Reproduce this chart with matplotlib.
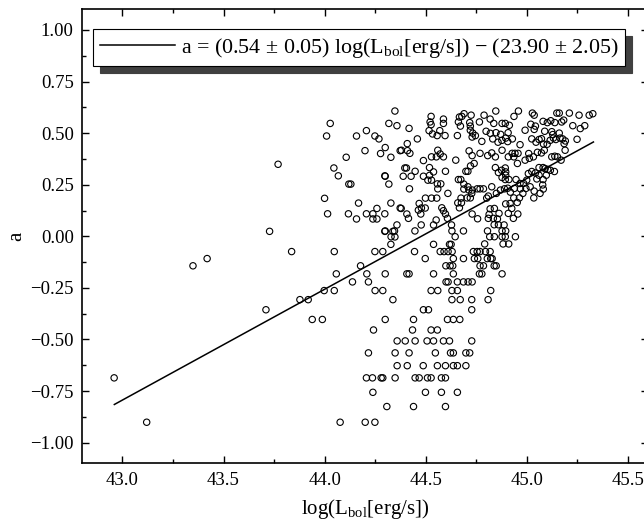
import matplotlib
matplotlib.use("Agg")
import matplotlib.pyplot as plt
from matplotlib.ticker import MultipleLocator, FuncFormatter
import numpy as np

plt.rcParams['font.family'] = ['Liberation Serif', 'DejaVu Serif']
plt.rcParams['mathtext.fontset'] = 'custom'
plt.rcParams['mathtext.rm'] = 'Liberation Serif'

# points in the upper, scattered part of the cloud
upper_lum = [
    43.770, 44.000, 44.015, 43.728,
    44.348, 44.028, 44.318, 44.358, 44.010, 44.158, 44.207, 44.249,
    44.269, 44.200, 44.300, 44.277, 44.328, 44.374, 44.107, 44.046,
    44.068, 44.298, 44.318, 44.120, 44.130, 44.168, 44.328, 44.374,
    44.118, 44.158, 44.207, 44.239, 44.259, 44.239, 44.259, 44.298,
    44.358, 44.298, 44.338, 44.348, 44.328,
    44.847, 44.959, 45.028, 45.037, 45.149, 45.161, 45.211, 45.259,
    45.309, 45.327, 44.527, 44.522, 44.527, 44.588, 44.588, 44.667,
    44.679, 44.690, 44.725, 44.789, 44.819, 44.837, 44.937, 44.662,
    44.672, 44.718, 44.721, 44.766, 44.878, 44.894, 44.914, 45.020,
    45.043, 45.037, 45.081, 45.102, 45.119, 45.139, 45.173, 45.183,
    45.228, 45.265, 45.287, 44.418, 44.517, 44.534, 44.557, 44.570,
    44.596, 44.657, 44.721, 44.733, 44.746, 44.730, 44.799, 44.820,
    44.848, 44.871, 44.908, 44.992, 45.089, 45.124, 45.129, 45.132,
    45.161, 45.178, 44.459, 44.778, 44.832, 44.858, 44.877, 44.896,
    44.906, 44.929, 44.967, 45.025, 45.046, 45.061, 45.073, 45.083,
    45.101, 45.116, 45.144, 45.165, 45.191, 45.185, 45.249, 44.409,
    44.410, 44.422, 44.380, 44.560, 44.572, 44.529, 44.553, 44.588,
    44.649, 44.715, 44.769, 44.730, 44.807, 44.827, 44.878, 44.845,
    44.909, 44.928, 44.942, 44.957, 44.936, 44.954, 44.992, 45.010,
    45.013, 45.033, 45.053, 45.087, 45.073, 45.124, 45.139, 45.152,
    45.170, 45.190, 44.489, 44.519, 44.539, 44.397, 44.405, 44.428,
    44.389, 44.448, 44.519, 44.489, 44.511, 44.529, 44.300, 44.420,
    44.598, 44.699, 44.709, 44.722, 44.740, 44.845, 44.860, 44.876,
    44.894, 44.896, 44.878, 44.894, 44.912, 44.896, 44.947, 44.967,
    44.985, 45.000, 45.008, 45.025, 45.043, 45.061, 45.081, 45.091,
    45.104, 45.117, 45.137, 45.061, 45.081, 45.097, 45.050, 45.079,
    45.082, 45.066, 45.035, 44.662, 44.674, 44.558, 44.575, 44.560,
    44.610, 44.689, 44.709, 44.689, 44.714, 44.731, 44.755, 44.769,
    44.786, 44.802, 44.810, 44.827, 44.850, 44.870, 44.890, 44.906,
    44.919, 44.939, 44.969, 44.981, 44.996, 45.017, 45.037, 44.499,
    44.529, 44.555, 44.675, 44.728, 44.721, 44.705, 44.936, 44.964,
    44.953, 44.468, 44.479, 44.498, 44.464, 44.476, 44.580, 44.588,
    44.598, 44.608, 44.659, 44.677, 44.667, 44.379, 44.407, 44.415,
    44.730, 44.819, 44.840, 44.814, 44.835, 44.855, 44.863, 44.896,
    44.918, 44.909, 44.926, 44.934, 44.956, 44.757, 44.810, 44.346,
    44.300, 44.329, 44.447, 44.478, 44.539, 44.552, 44.628, 44.630,
    44.646, 44.539, 44.687, 44.806, 44.840, 44.817, 44.878, 44.896,
    44.878, 44.894, 44.883, 44.911, 44.944, 44.839, 44.860, 44.888,
    44.792, 44.618, 44.626,
]
upper_a = [
    0.349, 0.184, 0.109, 0.024,
    0.607, 0.547, 0.547, 0.536, 0.486, 0.486, 0.512, 0.486,
    0.472, 0.415, 0.430, 0.401, 0.383, 0.415, 0.383, 0.331,
    0.293, 0.293, 0.253, 0.253, 0.253, 0.161, 0.161, 0.137,
    0.109, 0.084, 0.109, 0.109, 0.135, 0.084, 0.084, 0.109,
    0.055, 0.024, 0.024, -0.003, -0.039,
    0.607, 0.607, 0.597, 0.587, 0.597, 0.597, 0.597, 0.587,
    0.587, 0.594, 0.581, 0.554, 0.541, 0.568, 0.547, 0.578,
    0.581, 0.594, 0.587, 0.587, 0.568, 0.547, 0.581, 0.554,
    0.534, 0.551, 0.534, 0.554, 0.547, 0.547, 0.538, 0.543,
    0.534, 0.518, 0.557, 0.551, 0.560, 0.551, 0.554, 0.563,
    0.536, 0.522, 0.536, 0.523, 0.512, 0.496, 0.488, 0.512,
    0.488, 0.488, 0.514, 0.500, 0.488, 0.481, 0.509, 0.499,
    0.502, 0.494, 0.502, 0.514, 0.509, 0.507, 0.493, 0.476,
    0.500, 0.472, 0.472, 0.460, 0.472, 0.456, 0.465, 0.476,
    0.459, 0.472, 0.444, 0.472, 0.456, 0.469, 0.473, 0.447,
    0.446, 0.465, 0.469, 0.476, 0.462, 0.449, 0.470, 0.449,
    0.415, 0.402, 0.417, 0.417, 0.399, 0.385, 0.385, 0.385,
    0.369, 0.414, 0.402, 0.391, 0.391, 0.404, 0.417, 0.385,
    0.385, 0.402, 0.402, 0.402, 0.385, 0.353, 0.369, 0.401,
    0.378, 0.385, 0.407, 0.417, 0.404, 0.385, 0.388, 0.385,
    0.369, 0.417, 0.367, 0.333, 0.312, 0.331, 0.331, 0.291,
    0.291, 0.315, 0.295, 0.291, 0.272, 0.272, 0.291, 0.230,
    0.315, 0.315, 0.315, 0.341, 0.353, 0.333, 0.309, 0.320,
    0.331, 0.312, 0.285, 0.275, 0.275, 0.296, 0.275, 0.256,
    0.256, 0.272, 0.304, 0.314, 0.307, 0.333, 0.333, 0.328,
    0.324, 0.320, 0.314, 0.296, 0.275, 0.296, 0.278, 0.249,
    0.229, 0.208, 0.186, 0.275, 0.275, 0.254, 0.254, 0.230,
    0.208, 0.253, 0.240, 0.229, 0.224, 0.224, 0.230, 0.230,
    0.230, 0.185, 0.195, 0.240, 0.208, 0.224, 0.230, 0.233,
    0.214, 0.232, 0.230, 0.208, 0.232, 0.240, 0.219, 0.185,
    0.185, 0.185, 0.185, 0.208, 0.186, 0.186, 0.186, 0.186,
    0.164, 0.159, 0.137, 0.137, 0.127, 0.108, 0.138, 0.124,
    0.108, 0.087, 0.162, 0.162, 0.138, 0.135, 0.108, 0.087,
    0.108, 0.133, 0.135, 0.106, 0.087, 0.084, 0.111, 0.157,
    0.159, 0.111, 0.135, 0.087, 0.108, 0.085, 0.087, 0.026,
    0.026, -0.002, 0.026, 0.055, 0.055, 0.079, 0.055, 0.026,
    -0.002, -0.039, 0.026, 0.026, -0.002, -0.002, 0.026, 0.026,
    -0.002, -0.002, -0.037, -0.037, -0.002, 0.056, 0.056, 0.055,
    -0.037, -0.039, -0.039,
]

# lower part: a takes discrete values, list the log(L) of each point per level
lower_rows = {
    -0.074: [43.837, 44.048, 44.249, 44.288, 44.445, 44.572, 44.591, 44.611,
             44.631, 44.736, 44.755, 44.769, 44.796, 44.819],
    -0.108: [43.419, 44.498, 44.637, 44.687, 44.741, 44.758, 44.805, 44.822, 44.829],
    -0.143: [43.349, 44.178, 44.600, 44.621, 44.634, 44.769, 44.786, 44.839, 44.849],
    -0.182: [44.058, 44.209, 44.300, 44.407, 44.418, 44.539, 44.637, 44.766,
             44.778, 44.878],
    -0.221: [44.138, 44.217, 44.601, 44.611, 44.657, 44.687, 44.710, 44.730],
    -0.263: [43.998, 44.048, 44.250, 44.288, 44.527, 44.560, 44.630, 44.657, 44.822],
    -0.307: [43.878, 43.919, 44.338, 44.630, 44.671, 44.728, 44.809],
    -0.356: [43.710, 44.489, 44.514, 44.728],
    -0.403: [43.939, 43.989, 44.300, 44.440, 44.608, 44.637, 44.669],
    -0.454: [44.242, 44.435, 44.527, 44.558],
    -0.507: [44.359, 44.399, 44.448, 44.507, 44.539, 44.588, 44.618, 44.728],
    -0.565: [44.217, 44.349, 44.418, 44.548, 44.623, 44.637, 44.699, 44.718],
    -0.627: [44.359, 44.409, 44.488, 44.558, 44.598, 44.637, 44.657, 44.699],
    -0.686: [42.959, 44.207, 44.237, 44.280, 44.288, 44.349, 44.448, 44.468,
             44.509, 44.527, 44.578, 44.598],
    -0.756: [44.239, 44.499, 44.578, 44.657],
    -0.825: [44.308, 44.440, 44.598],
    -0.901: [43.120, 44.077, 44.201, 44.249],
}

# end points of the fitted relation
fit_lum = [42.96, 45.33]
fit_a = [-0.815, 0.457]

assert len(upper_lum) == len(upper_a)
lum = list(upper_lum)
a_vals = list(upper_a)
for level, xs in lower_rows.items():
    lum += xs
    a_vals += [level] * len(xs)

fig = plt.figure(figsize=(6.44, 5.31), dpi=100)
ax = fig.add_axes([82 / 644, 1 - 463.3 / 531, 566 / 644, 454 / 531])

ax.scatter(lum, a_vals, s=21, facecolors='none', edgecolors='black', linewidths=0.8, zorder=2)
ax.plot(fit_lum, fit_a, color='black', lw=1.1, zorder=3,
        label=r'a = (0.54 ± 0.05) log(L$_{\mathrm{bol}}$[erg/s]) − (23.90 ± 2.05)')

ax.set_xlim(42.8, 45.6)
ax.set_ylim(-1.1, 1.1)
ax.xaxis.set_major_locator(MultipleLocator(0.5))
ax.xaxis.set_minor_locator(MultipleLocator(0.25))
ax.yaxis.set_major_locator(MultipleLocator(0.25))
ax.yaxis.set_minor_locator(MultipleLocator(0.125))
ax.xaxis.set_major_formatter(FuncFormatter(lambda v, p: f'{v:.1f}'))
ax.yaxis.set_major_formatter(FuncFormatter(lambda v, p: f'{v:.2f}'.replace('-', '\u2212')))
ax.tick_params(which='both', direction='in', top=True, right=True, width=1.0, labelsize=13.5)
ax.tick_params(which='major', length=5, pad=6)
ax.tick_params(which='minor', length=3)
for sp in ax.spines.values():
    sp.set_linewidth(1.2)

ax.set_xlabel(r'log(L$_{\mathrm{bol}}$[erg/s])', fontsize=15, labelpad=6)
ax.set_ylabel('a', fontsize=15, labelpad=3)

leg = ax.legend(loc='upper left', bbox_to_anchor=(0.020, 0.956), borderaxespad=0,
                fontsize=15.8, fancybox=False, framealpha=1, edgecolor='black',
                handlelength=3.4, handletextpad=0.3, borderpad=0.3,
                shadow={'ox': 5, 'oy': -5, 'color': '#404040', 'alpha': 1})
leg.get_frame().set_linewidth(0.8)

fig.savefig('out.png', dpi=100)
